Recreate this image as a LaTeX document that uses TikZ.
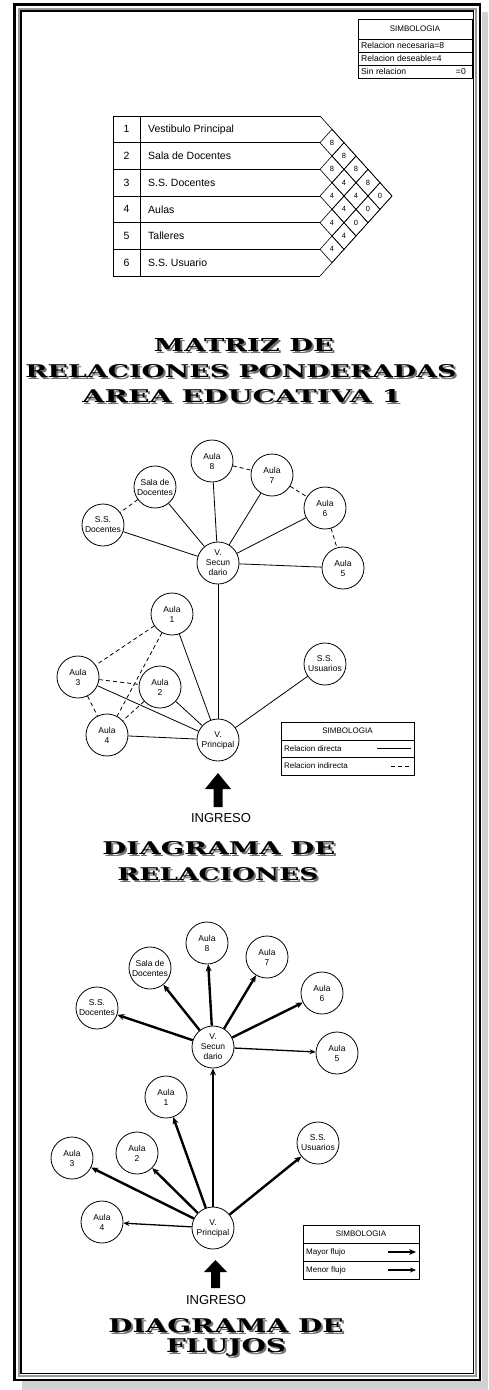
\documentclass[tikz,border=0pt]{standalone}
\usepackage{fontspec}
\setmainfont{Liberation Sans}
\newfontfamily\titlefont{DejaVu Serif}
\usepackage{graphicx}
\usetikzlibrary{arrows.meta}

% title line with shadow: name, position, width, height, text
\newcommand{\titulo}[5]{%
  \node[titulo, text=black!55] (#1s) at ([shift={(2,2)}]#2) {\resizebox{#3pt}{#4pt}{\titlefont\bfseries #5}};
  \node[titulo] (#1) at (#2) {\resizebox{#3pt}{#4pt}{\titlefont\bfseries #5}};}

\begin{document}
\begin{tikzpicture}[x=1pt, y=-1pt,
    nodo/.style={draw, circle, minimum size=42pt, inner sep=0pt, align=center,
      font=\fontsize{8.5}{10}\selectfont, line width=0.8pt},
    directa/.style={line width=0.8pt},
    indirecta/.style={line width=0.8pt, dash pattern=on 4pt off 3pt},
    mayor/.style={line width=2.4pt, -{Stealth[length=7pt,width=6pt]}},
    menor/.style={line width=1.3pt, -{Stealth[length=6pt,width=5pt]}},
    titulo/.style={anchor=south, inner sep=0pt},
    leyenda/.style={font=\fontsize{8}{9}\selectfont, inner sep=0pt},
    celda/.style={font=\fontsize{10.5}{12}\selectfont, inner sep=0pt},
    ingreso/.style={font=\fontsize{13}{14}\selectfont, inner sep=0pt}
  ]
  \useasboundingbox (0,0) rectangle (488,1390);

  % ====================================================
  % FRAME
  % ====================================================
  \fill[black!18] (22,1381) rectangle (488,1390);
  \fill[black!18] (482,12) rectangle (488,1390);
  \draw[line width=2.7pt] (14.7,4.7) rectangle (480,1380);
  \draw[black!40, line width=1.4pt] (18.8,8.8) rectangle (476,1376);
  \draw[line width=1.7pt] (21,11) rectangle (473.5,1373.5);

  % ====================================================
  % MATRIX LEGEND
  % ====================================================
  \draw[line width=0.6pt] (358,19) rectangle (472,78);
  \draw[line width=0.6pt] (358,39) -- (472,39) (358,52) -- (472,52) (358,65) -- (472,65);
  \node[leyenda] (simbA) at (415,29) {SIMBOLOGIA};
  \node[leyenda, font=\fontsize{8.6}{9}\selectfont, anchor=west] (necA) at (361,45.5) {Relacion necesaria=8};
  \node[leyenda, font=\fontsize{8.6}{9}\selectfont, anchor=west] (desA) at (361,58.5) {Relacion deseable=4};
  \node[leyenda, font=\fontsize{8.6}{9}\selectfont, anchor=west] (sinA) at (361,71.5) {Sin relacion};
  \node[leyenda, font=\fontsize{8.6}{9}\selectfont, anchor=east] (ceroA) at (466,71.5) {=0};

  % ====================================================
  % MATRIX OF WEIGHTED RELATIONS
  % ====================================================
  \draw[line width=0.6pt] (113,116) -- (113,276) (140,116) -- (140,276);
  \foreach \k in {0,...,6}
    \draw[line width=0.6pt] (113,116+26.667*\k) -- (320,116+26.667*\k);
  \draw[line width=0.6pt] (320,116) -- (392,196) -- (320,276);

  \foreach \n/\t in {1/Vestibulo Principal, 2/Sala de Docentes, 3/S.S. Docentes,
                     4/Aulas, 5/Talleres, 6/S.S. Usuario} {
    \node[celda] (num\n) at (126.5,{116+26.667*(\n-0.5)}) {\n};
    \node[celda, anchor=west] (esp\n) at (148,{116+26.667*(\n-0.5)}) {\t};
  }

  \foreach \i/\j/\v in {1/2/8, 2/3/8, 3/4/4, 4/5/4, 5/6/4,
                        1/3/8, 2/4/4, 3/5/4, 4/6/4,
                        1/4/8, 2/5/4, 3/6/0,
                        1/5/8, 2/6/0,
                        1/6/0} {
    \pgfmathsetmacro\cx{320+12*(\j-\i)}
    \pgfmathsetmacro\cy{116+13.333*(\i+\j-1)}
    \draw[line width=0.6pt] (\cx-12,\cy) -- (\cx,\cy-13.333) -- (\cx+12,\cy) -- (\cx,\cy+13.333) -- cycle;
    \node[font=\fontsize{7.5}{8}\selectfont, inner sep=0pt] (m\i\j) at (\cx,\cy) {\v};
  }

  \titulo{tA}{244,352}{180}{13}{MATRIZ DE}
  \titulo{tB}{241,378}{431}{13}{RELACIONES PONDERADAS}
  \titulo{tC}{242,403}{319}{13}{AREA EDUCATIVA 1}

  % ====================================================
  % RELATION DIAGRAM
  % ====================================================
  \node[nodo] (ra8) at (212,461) {Aula\\8};
  \node[nodo] (ra7) at (272,475) {Aula\\7};
  \node[nodo] (ra6) at (325,508) {Aula\\6};
  \node[nodo] (ra5) at (343,568) {Aula\\5};
  \node[nodo] (rsd) at (155,487) {Sala de\\Docentes};
  \node[nodo] (rssd) at (103,525) {S.S.\\Docentes};
  \node[nodo] (rvs) at (218,563) {V.\\Secun\\dario};
  \node[nodo] (ra1) at (172,614) {Aula\\1};
  \node[nodo] (ra2) at (160,687) {Aula\\2};
  \node[nodo] (ra3) at (78,677) {Aula\\3};
  \node[nodo] (ra4) at (107,735) {Aula\\4};
  \node[nodo] (rvp) at (218,740) {V.\\Principal};
  \node[nodo] (rssu) at (325,664) {S.S.\\Usuarios};

  \foreach \a in {ra8, ra7, ra6, ra5, rsd, rssd, rvp}
    \draw[directa] (rvs) -- (\a);
  \foreach \a in {ra1, ra2, ra3, ra4, rssu}
    \draw[directa] (rvp) -- (\a);
  \draw[indirecta] (ra8) -- (ra7);
  \draw[indirecta] (ra7) -- (ra6);
  \draw[indirecta] (ra6) -- (ra5);
  \draw[indirecta] (rsd) -- (rssd);
  \draw[indirecta] (ra1) -- (ra3);
  \draw[indirecta] (ra1) -- (ra4);
  \draw[indirecta] (ra3) -- (ra2);
  \draw[indirecta] (ra3) -- (ra4);
  \draw[indirecta] (ra2) -- (ra4);

  % entrance
  \fill (213.5,807) -- (213.5,789) -- (205,789) -- (218,773) -- (231,789) -- (222.5,789) -- (222.5,807) -- cycle;
  \node[ingreso] (ingA) at (221,818) {INGRESO};

  % legend
  \draw[line width=0.6pt] (281,722) rectangle (414,775);
  \draw[line width=0.6pt] (281,740) -- (414,740) (281,757) -- (414,757);
  \node[leyenda] (simbB) at (347.5,731) {SIMBOLOGIA};
  \node[leyenda, anchor=west] (dirB) at (284,748.5) {Relacion directa};
  \node[leyenda, anchor=west] (indB) at (284,766) {Relacion indirecta};
  \coordinate (dirB1) at (377,748.5);
  \coordinate (dirB2) at (411,748.5);
  \coordinate (indB1) at (391,766);
  \coordinate (indB2) at (411,766);
  \draw[directa] (dirB1) -- (dirB2);
  \draw[indirecta] (indB1) -- (indB2);

  \titulo{tD}{219,855}{233}{13}{DIAGRAMA DE}
  \titulo{tE}{218,881}{201}{13}{RELACIONES}

  % ====================================================
  % FLOW DIAGRAM
  % ====================================================
  \node[nodo] (fa8) at (207,943) {Aula\\8};
  \node[nodo] (fa7) at (267,957) {Aula\\7};
  \node[nodo] (fa6) at (322,993) {Aula\\6};
  \node[nodo] (fa5) at (337,1053) {Aula\\5};
  \node[nodo] (fsd) at (150,968) {Sala de\\Docentes};
  \node[nodo] (fssd) at (97,1008) {S.S.\\Docentes};
  \node[nodo] (fvs) at (213,1047) {V.\\Secun\\dario};
  \node[nodo] (fa1) at (166,1097) {Aula\\1};
  \node[nodo] (fa2) at (137,1153) {Aula\\2};
  \node[nodo] (fa3) at (72,1158) {Aula\\3};
  \node[nodo] (fa4) at (102,1222) {Aula\\4};
  \node[nodo] (fvp) at (213,1228) {V.\\Principal};
  \node[nodo] (fssu) at (318,1143) {S.S.\\Usuarios};

  \foreach \a in {fa8, fa7, fa6, fsd, fssd}
    \draw[mayor] (fvs) -- (\a);
  \draw[menor] (fvs) -- (fa5);
  \foreach \a in {fvs, fa1, fa2, fa3, fssu}
    \draw[mayor] (fvp) -- (\a);
  \draw[menor] (fvp) -- (fa4);

  % entrance
  \fill (211,1288) -- (211,1272) -- (204,1272) -- (215.5,1260) -- (227,1272) -- (220,1272) -- (220,1288) -- cycle;
  \node[ingreso] (ingB) at (216,1300) {INGRESO};

  % legend
  \draw[line width=0.6pt] (303,1225) rectangle (419,1279);
  \draw[line width=0.6pt] (303,1243) -- (419,1243) (303,1261) -- (419,1261);
  \node[leyenda] (simbC) at (361,1234) {SIMBOLOGIA};
  \node[leyenda, anchor=west] (mayC) at (306,1252) {Mayor flujo};
  \node[leyenda, anchor=west] (menC) at (306,1270) {Menor flujo};
  \coordinate (mayC1) at (388,1252);
  \coordinate (mayC2) at (416,1252);
  \coordinate (menC1) at (388,1270);
  \coordinate (menC2) at (416,1270);
  \draw[mayor] (mayC1) -- (mayC2);
  \draw[menor] (menC1) -- (menC2);

  \titulo{tF}{226,1333}{235}{14}{DIAGRAMA DE}
  \titulo{tG}{226,1357}{120}{14}{FLUJOS}
\end{tikzpicture}
\end{document}
